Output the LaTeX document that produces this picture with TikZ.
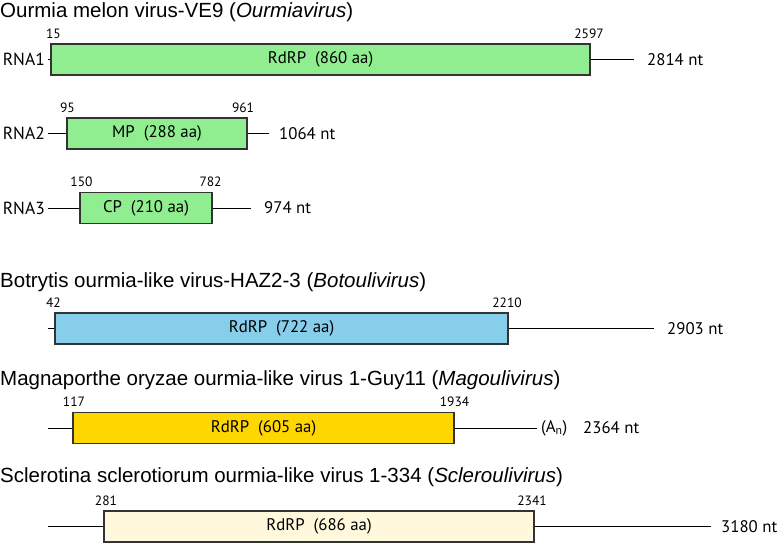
\documentclass[tikz,border=0pt]{standalone}
\usepackage{fontspec}
\setmainfont{PT Sans}
\newfontfamily\titlefont{Liberation Sans}
\usepackage{xcolor}
\definecolor{orfGreen}{HTML}{90EE90}
\definecolor{orfBlue}{HTML}{87CEEB}
\definecolor{orfGold}{HTML}{FFD700}
\definecolor{orfSilk}{HTML}{FFF8DC}
\definecolor{orfEdge}{HTML}{333333}
\usetikzlibrary{positioning}

\tikzset{
  orf/.style={rectangle, draw=orfEdge, line width=1.1pt, minimum height=31pt, inner sep=0pt, font=\fontsize{16.8}{17}\selectfont},
  utr/.style={black, line width=0.9pt},
  vtitle/.style={anchor=base west, inner sep=0pt, font=\titlefont\fontsize{20.5}{21}\selectfont},
  seglbl/.style={anchor=east, inner sep=0pt, font=\fontsize{17.5}{18}\selectfont},
  ntlbl/.style={anchor=west, inner sep=0pt, font=\fontsize{16.8}{17}\selectfont},
  poslbl/.style={anchor=south, inner sep=0pt, yshift=5pt, font=\fontsize{13.5}{14}\selectfont}
}

\begin{document}
\begin{tikzpicture}[x=1pt, y=-1pt]
  \useasboundingbox (0,0) rectangle (780,542);

  % Ourmiavirus
  \node[vtitle] (tOur) at (0,17) {Ourmia melon virus-VE9 (\textit{Ourmiavirus})};

  \node[orf, fill=orfGreen, minimum width=539pt] (rna1) at (320.5,59.5) {RdRP\ \ (860 aa)};
  \coordinate (rna1-5) at (48,59.5);
  \coordinate (rna1-3) at (634,59.5);
  \draw[utr] (rna1-5) -- (rna1.west);
  \draw[utr] (rna1.east) -- (rna1-3);
  \node[seglbl] (lRna1) at (45,59.5) {RNA1};
  \node[ntlbl] (nRna1) at (647,59.5) {2814 nt};
  \node[poslbl, xshift=3pt] (sRna1) at (rna1.north west) {15};
  \node[poslbl, xshift=-1.5pt] (eRna1) at (rna1.north east) {2597};

  \node[orf, fill=orfGreen, minimum width=180pt] (rna2) at (157,133.5) {MP\ \ (288 aa)};
  \coordinate (rna2-5) at (48,133.5);
  \coordinate (rna2-3) at (269,133.5);
  \draw[utr] (rna2-5) -- (rna2.west);
  \draw[utr] (rna2.east) -- (rna2-3);
  \node[seglbl] (lRna2) at (45,133.5) {RNA2};
  \node[ntlbl] (nRna2) at (279,133.5) {1064 nt};
  \node[poslbl, xshift=1pt] (sRna2) at (rna2.north west) {95};
  \node[poslbl, xshift=-4.5pt] (eRna2) at (rna2.north east) {961};

  \node[orf, fill=orfGreen, minimum width=132pt] (rna3) at (146,208) {CP\ \ (210 aa)};
  \coordinate (rna3-5) at (48,208);
  \coordinate (rna3-3) at (251,208);
  \draw[utr] (rna3-5) -- (rna3.west);
  \draw[utr] (rna3.east) -- (rna3-3);
  \node[seglbl] (lRna3) at (45,208) {RNA3};
  \node[ntlbl] (nRna3) at (264,208) {974 nt};
  \node[poslbl, xshift=2pt] (sRna3) at (rna3.north west) {150};
  \node[poslbl, xshift=-2pt] (eRna3) at (rna3.north east) {782};

  % Botoulivirus
  \node[vtitle] (tBot) at (0,287) {Botrytis ourmia-like virus-HAZ2-3 (\textit{Botoulivirus})};

  \node[orf, fill=orfBlue, minimum width=453pt] (bot) at (281.5,328.5) {RdRP\ \ (722 aa)};
  \coordinate (bot-5) at (48,328.5);
  \coordinate (bot-3) at (654,328.5);
  \draw[utr] (bot-5) -- (bot.west);
  \draw[utr] (bot.east) -- (bot-3);
  \node[ntlbl] (nBot) at (667,328.5) {2903 nt};
  \node[poslbl, xshift=-1pt] (sBot) at (bot.north west) {42};
  \node[poslbl, xshift=-1.5pt] (eBot) at (bot.north east) {2210};

  % Magoulivirus
  \node[vtitle] (tMag) at (0,385) {Magnaporthe oryzae ourmia-like virus 1-Guy11 (\textit{Magoulivirus})};

  \node[orf, fill=orfGold, minimum width=381pt] (mag) at (263.5,428) {RdRP\ \ (605 aa)};
  \coordinate (mag-5) at (48,428);
  \coordinate (mag-3) at (537,428);
  \draw[utr] (mag-5) -- (mag.west);
  \draw[utr] (mag.east) -- (mag-3);
  \node[ntlbl] (polyA) at (541,428) {(A\textsubscript{n})};
  \node[ntlbl] (nMag) at (583,428) {2364 nt};
  \node[poslbl, xshift=1.5pt] (sMag) at (mag.north west) {117};
  \node[poslbl] (eMag) at (mag.north east) {1934};

  % Scleroulivirus
  \node[vtitle] (tScl) at (0,482) {Sclerotina sclerotiorum ourmia-like virus 1-334 (\textit{Scleroulivirus})};

  \node[orf, fill=orfSilk, minimum width=430pt] (scl) at (319,526.5) {RdRP\ \ (686 aa)};
  \coordinate (scl-5) at (48,526.5);
  \coordinate (scl-3) at (711,526.5);
  \draw[utr] (scl-5) -- (scl.west);
  \draw[utr] (scl.east) -- (scl-3);
  \node[ntlbl] (nScl) at (721,526.5) {3180 nt};
  \node[poslbl, xshift=2.5pt] (sScl) at (scl.north west) {281};
  \node[poslbl, xshift=-2.5pt] (eScl) at (scl.north east) {2341};
\end{tikzpicture}
\end{document}
